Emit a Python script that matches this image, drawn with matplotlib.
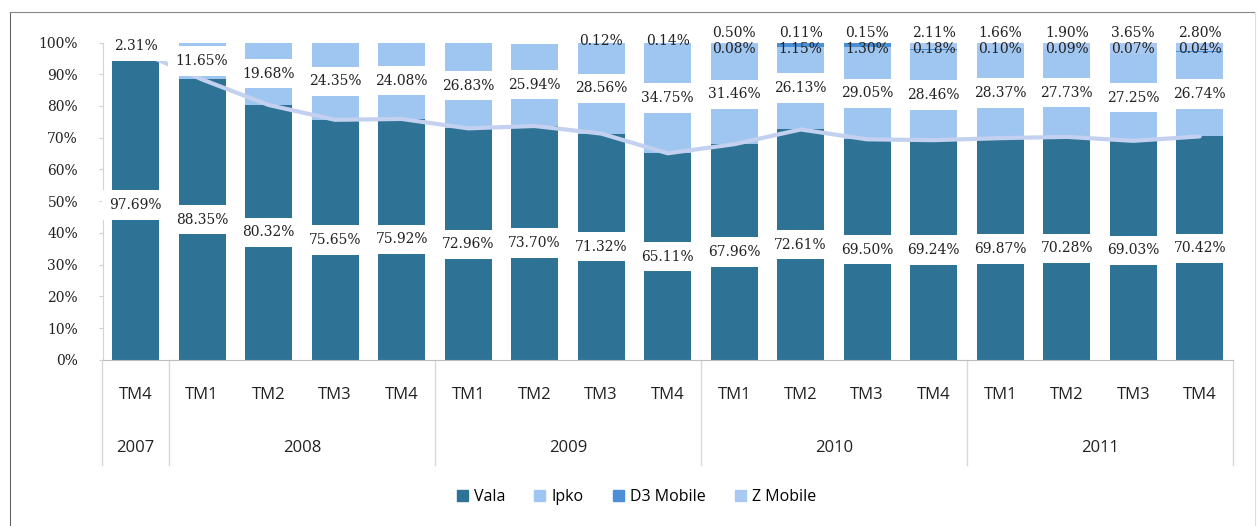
import numpy as np
import matplotlib.pyplot as plt
from matplotlib.lines import Line2D
from matplotlib.patches import Patch

quarters = ["TM4", "TM1", "TM2", "TM3", "TM4", "TM1", "TM2", "TM3", "TM4",
            "TM1", "TM2", "TM3", "TM4", "TM1", "TM2", "TM3", "TM4"]
years = ["2007", "2008", "2009", "2010", "2011"]
year_sizes = [1, 4, 4, 4, 4]

vala = [97.69, 88.35, 80.32, 75.65, 75.92, 72.96, 73.70, 71.32, 65.11,
        67.96, 72.61, 69.50, 69.24, 69.87, 70.28, 69.03, 70.42]
ipko = [2.31, 11.65, 19.68, 24.35, 24.08, 26.83, 25.94, 28.56, 34.75,
        31.46, 26.13, 29.05, 28.46, 28.37, 27.73, 27.25, 26.74]
d3 = [0, 0, 0, 0, 0, 0, 0, 0.12, 0.14,
      0.08, 1.15, 1.30, 0.18, 0.10, 0.09, 0.07, 0.04]
zmob = [0, 0, 0, 0, 0, 0, 0, 0, 0,
        0.50, 0.11, 0.15, 2.11, 1.66, 1.90, 3.65, 2.80]

c_vala = "#2e7395"
c_ipko = "#9fc6f1"
c_d3 = "#4b8fd6"
c_z = "#a9c9f2"
serif = "DejaVu Serif"
sans = "Open Sans"

fig = plt.figure(figsize=(12.58, 5.26), dpi=100)
ax = fig.add_axes([0.0819, 0.3156, 0.8982, 0.6036])

x = np.arange(len(vala))
vala = np.array(vala)
ipko = np.array(ipko)
d3 = np.array(d3)
zmob = np.array(zmob)
w = 0.71

ax.bar(x, vala, w, color=c_vala, zorder=2)
ax.bar(x, ipko, w, bottom=vala, color=c_ipko, zorder=2)
ax.bar(x, d3, w, bottom=vala + ipko, color=c_d3, zorder=2)
ax.bar(x, zmob, w, bottom=vala + ipko + d3, color=c_z, zorder=2)

# trend line over the Vala tops
ax.plot(x, vala, color="#c3d0ef", lw=3, zorder=3, solid_capstyle="round")

box = dict(boxstyle="square,pad=0.55", fc="white", ec="none")
for i in x:
    ax.text(i, vala[i] / 2, f"{vala[i]:.2f}%", ha="center", va="center",
            fontsize=10, family=serif, color="#222222", bbox=box, zorder=5)
    ax.text(i, vala[i] + ipko[i] / 2, f"{ipko[i]:.2f}%", ha="center", va="center",
            fontsize=10, family=serif, color="#222222", bbox=box, zorder=5)
    if d3[i] > 0:
        yy = 98.0 if zmob[i] > 0 else 100.5
        ax.text(i, yy, f"{d3[i]:.2f}%", ha="center", va="center",
                fontsize=10, family=serif, color="#222222", zorder=5)
    if zmob[i] > 0:
        ax.text(i, 103.0, f"{zmob[i]:.2f}%", ha="center", va="center",
                fontsize=10, family=serif, color="#222222", zorder=5)

ax.set_xlim(-0.49, 16.5)
ax.set_ylim(0, 100)
ax.set_yticks(np.arange(0, 101, 10))
ax.set_yticklabels([f"{v}%" for v in range(0, 101, 10)], family=serif, fontsize=10)
ax.tick_params(axis="y", length=3, color="#cfcfcf", pad=15, labelcolor="#222222")
ax.set_xticks([])
for s in ["top", "right"]:
    ax.spines[s].set_visible(False)
ax.spines["left"].set_color("#d4d4d4")
ax.spines["bottom"].set_color("#bdbdbd")

# two-level category axis
tr = ax.get_xaxis_transform()
for i, q in enumerate(quarters):
    ax.text(i, -0.11, q, transform=tr, ha="center", va="center",
            fontsize=12, family=sans, color="#222222")
start = -0.5
for yr, n in zip(years, year_sizes):
    ax.text(start + n / 2, -0.276, yr, transform=tr, ha="center", va="center",
            fontsize=12, family=sans, color="#222222")
    ax.plot([start, start], [0, -0.331], transform=tr, color="#d8d8d8",
            lw=1, clip_on=False)
    start += n
ax.plot([start, start], [0, -0.331], transform=tr, color="#d8d8d8",
        lw=1, clip_on=False)

handles = [Patch(color=c_vala), Patch(color=c_ipko), Patch(color=c_d3), Patch(color=c_z)]
fig.legend(handles, ["Vala", "Ipko", "D3 Mobile", "Z Mobile"], loc="center",
           bbox_to_anchor=(0.506, 0.055), ncol=4, frameon=False,
           handlelength=0.7, handleheight=0.7, handletextpad=0.4,
           columnspacing=1.8, prop={"family": sans, "size": 11.5})

# outer chart border
fig.add_artist(Line2D([0.008, 0.008], [0, 0.978], color="#666666", lw=0.8))
fig.add_artist(Line2D([0.008, 0.998], [0.978, 0.978], color="#888888", lw=0.8))
fig.add_artist(Line2D([0.998, 0.998], [0, 0.978], color="#dddddd", lw=0.8))

fig.savefig("out.png", dpi=100)
